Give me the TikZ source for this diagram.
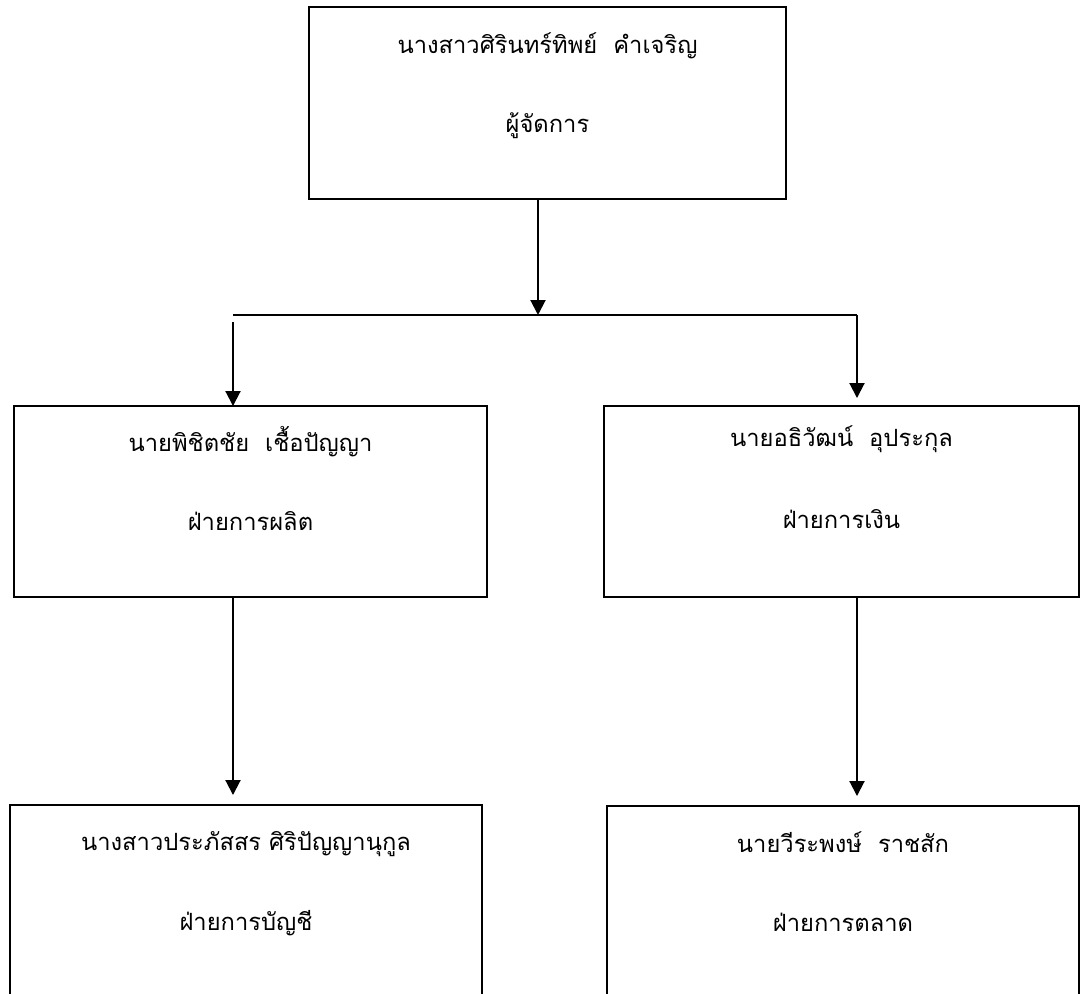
\documentclass[tikz,border=0pt]{standalone}
\usepackage{fontspec}
\newfontfamily\thaifont[Script=Thai]{Loma}
\usetikzlibrary{positioning,arrows.meta}

\begin{document}
\begin{tikzpicture}[x=0.02cm,y=-0.02cm,line width=0.04cm,
    node distance=1.6cm,on grid,
    box/.style={draw,rectangle,inner sep=0pt,outer sep=0pt,minimum height=3.82cm},
    lbl/.style={font=\thaifont\fontsize{13.5}{16}\selectfont,inner sep=0pt},
    link/.style={-{Triangle[length=0.3cm,width=0.3cm]}}]
   \useasboundingbox (0,0) rectangle (1080,994);
   \clip (0,0) rectangle (1080,994);
   % boxes
   \node[box,minimum width=9.54cm,minimum height=3.84cm] (manager) at (547.5,103) {};
   \node[box,minimum width=9.46cm] (prod) at (250.5,501.5) {};
   \node[box,minimum width=9.5cm] (fin) at (841.5,501.5) {};
   \node[box,minimum width=9.44cm,minimum height=4cm] (acct) at (246,905) {};
   \node[box,minimum width=9.44cm,minimum height=4cm] (mkt) at (843,906) {};

   % names and roles
   \node[lbl] (managername) [below=0.5cm of manager.north] {นางสาวศิรินทร์ทิพย์~~คำเจริญ};
   \node[lbl] (managerrole) [below=of managername] {ผู้จัดการ};
   \node[lbl] (prodname) [below=0.38cm of prod.north] {นายพิชิตชัย~~เชื้อปัญญา};
   \node[lbl] (prodrole) [below=of prodname] {ฝ่ายการผลิต};
   \node[lbl] (finname) [below=0.38cm of fin.north] {นายอธิวัฒน์~~อุประกุล};
   \node[lbl] (finrole) [below=of finname] {ฝ่ายการเงิน};
   \node[lbl] (acctname) [below=0.5cm of acct.north] {นางสาวประภัสสร ศิริปัญญานุกูล};
   \node[lbl] (acctrole) [below=of acctname] {ฝ่ายการบัญชี};
   \node[lbl] (mktname) [below=0.5cm of mkt.north] {นายวีระพงษ์~~ราชสัก};
   \node[lbl] (mktrole) [below=of mktname] {ฝ่ายการตลาด};

   \coordinate (split) at (538,315);
   \coordinate (branchl) at (233,315);
   \coordinate (branchr) at (857,315);

   \draw[link] (manager.south -| split) -- (split);
   \draw (branchl) -- (branchr);
   \draw[link] ([yshift=-0.14cm]branchl) -- (prod.north -| branchl);
   \draw[link,shorten >=0.16cm] (branchr) -- (fin.north -| branchr);
   \draw[link,shorten >=0.2cm] (prod.south -| branchl) -- (acct.north -| branchl);
   \draw[link,shorten >=0.2cm] (fin.south -| branchr) -- (mkt.north -| branchr);
\end{tikzpicture}
\end{document}
